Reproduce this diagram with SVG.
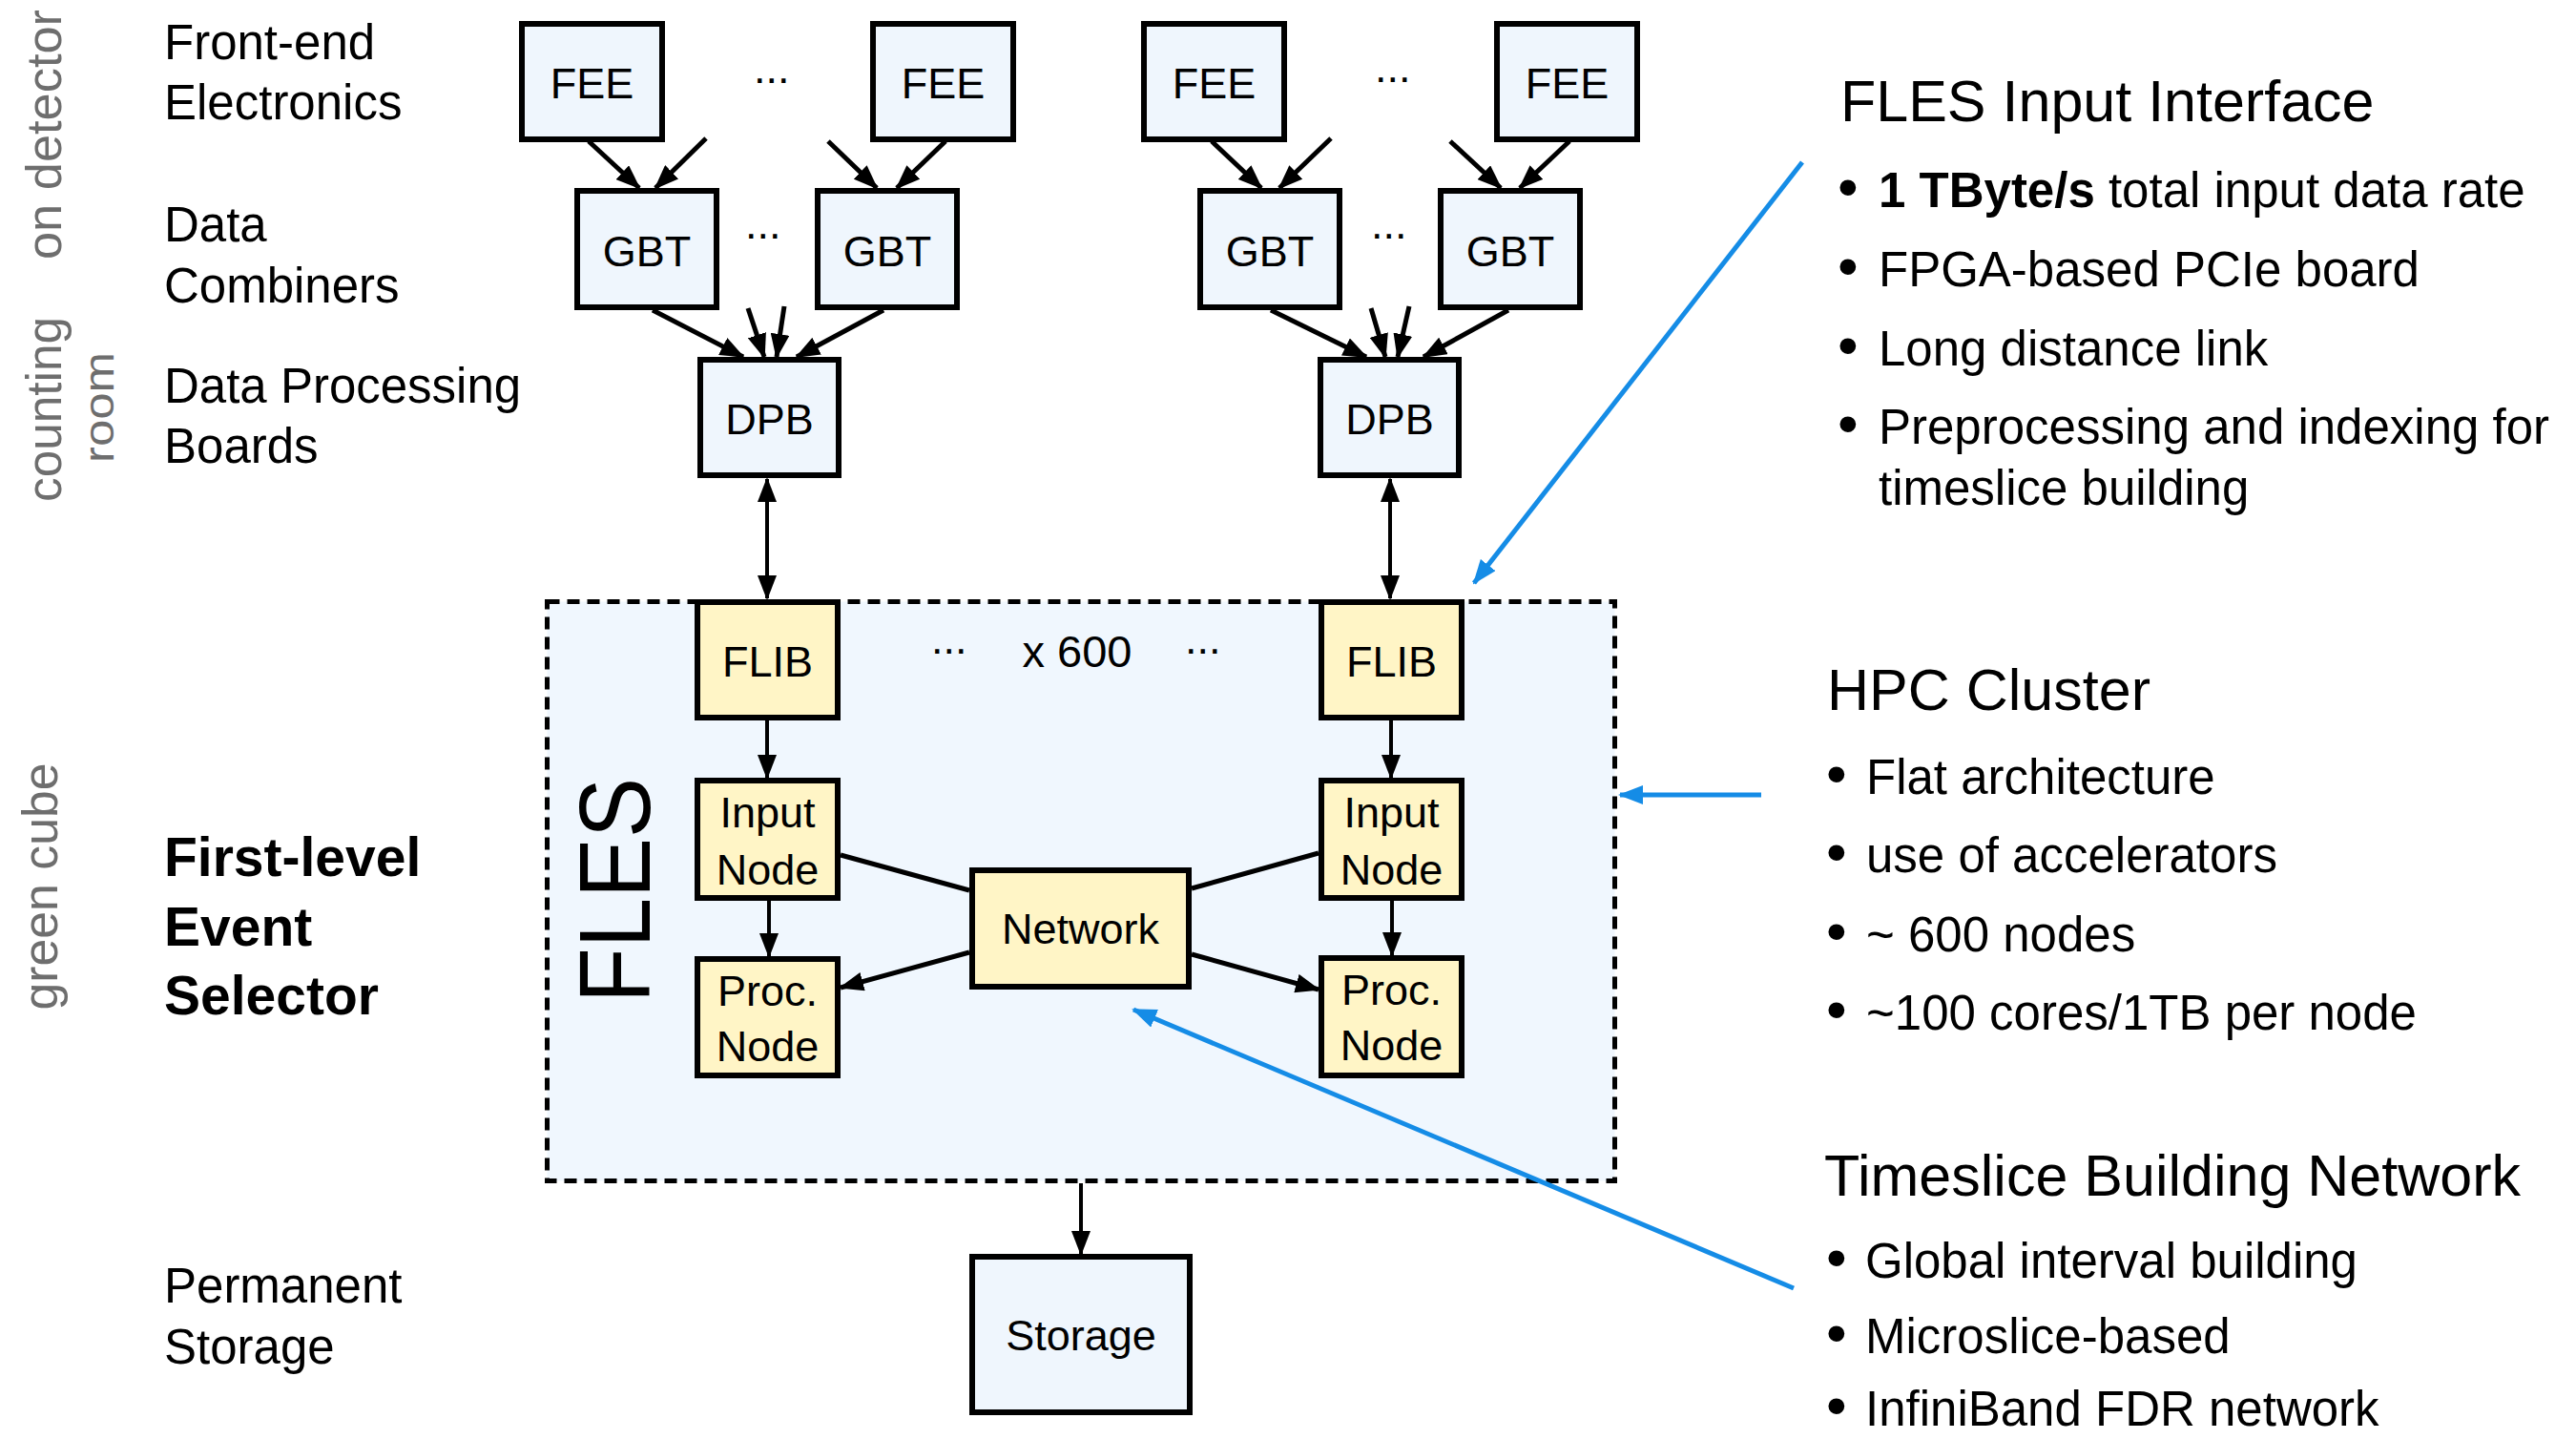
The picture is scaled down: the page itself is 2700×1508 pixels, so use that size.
<svg xmlns="http://www.w3.org/2000/svg" width="2700" height="1508" viewBox="0 0 2700 1508">
  <defs>
    <style>
      text { font-family: "Liberation Sans", Arial, Helvetica, sans-serif; fill: #000; }
      .label { font-size: 51px; }
      .bold { font-weight: bold; }
      .heading { font-size: 57px; font-weight: bold; }
      .side { font-size: 52px; fill: #6e6e6e; }
      .side-small { font-size: 44px; fill: #6e6e6e; }
      .title { font-size: 61px; }
      .item { font-size: 51px; }
      .dot { font-size: 62px; }
      .nt { font-size: 45px; text-anchor: middle; }
      .count { font-size: 47px; text-anchor: middle; }
      .dots { font-size: 45px; }
      .blue-box { fill: #EFF6FD; stroke: #000; stroke-width: 6; }
      .yellow-box { fill: #FFF5C6; stroke: #000; stroke-width: 6; }
      .region { fill: #F0F7FE; stroke: #000; stroke-width: 5; stroke-dasharray: 13 8; }
      .edge { stroke: #000; stroke-width: 5; fill: none; }
      .edge-thin { stroke: #000; stroke-width: 4; fill: none; }
      .callout { stroke: #158CE6; stroke-width: 5; fill: none; }
    </style>
    <marker id="arrow" markerUnits="userSpaceOnUse" markerWidth="26" markerHeight="20" refX="24" refY="10" orient="auto-start-reverse">
      <path d="M0,0 L26,10 L0,20 Z" fill="#000"/>
    </marker>
    <marker id="arrow-blue" markerUnits="userSpaceOnUse" markerWidth="26" markerHeight="20" refX="24" refY="10" orient="auto">
      <path d="M0,0 L26,10 L0,20 Z" fill="#158CE6"/>
    </marker>
  </defs>

  <rect width="2700" height="1508" fill="#fff"/>

  <!-- location labels (rotated, grey) -->
  <g id="locations">
    <text class="side" transform="translate(64,141) rotate(-90)" text-anchor="middle" textLength="262" lengthAdjust="spacingAndGlyphs">on detector</text>
    <text class="side" transform="translate(64,429) rotate(-90)" text-anchor="middle" textLength="194" lengthAdjust="spacingAndGlyphs">counting</text>
    <text class="side-small" transform="translate(119,427) rotate(-90)" text-anchor="middle" textLength="116" lengthAdjust="spacingAndGlyphs">room</text>
    <text class="side" transform="translate(60,929) rotate(-90)" text-anchor="middle" textLength="259" lengthAdjust="spacingAndGlyphs">green cube</text>
  </g>

  <!-- tier labels -->
  <g id="tiers">
    <text class="label" x="172" y="62">Front-end</text>
    <text class="label" x="172" y="125">Electronics</text>
    <text class="label" x="172" y="253">Data</text>
    <text class="label" x="172" y="317">Combiners</text>
    <text class="label" x="172" y="422">Data Processing</text>
    <text class="label" x="172" y="485">Boards</text>
    <text class="heading" x="172" y="918">First-level</text>
    <text class="heading" x="172" y="991">Event</text>
    <text class="heading" x="172" y="1063">Selector</text>
    <text class="label" x="172" y="1365">Permanent</text>
    <text class="label" x="172" y="1429">Storage</text>
  </g>

  <!-- FLES region -->
  <g id="fles">
    <rect class="region" x="573.5" y="630.5" width="1119" height="607"/>
    <text transform="translate(681,933) rotate(-90)" text-anchor="middle" font-size="106" textLength="236" lengthAdjust="spacingAndGlyphs">FLES</text>
    <text class="dots" x="976" y="685">...</text>
    <text class="count" x="1129" y="699">x 600</text>
    <text class="dots" x="1242" y="685">...</text>
  </g>

  <!-- front-end electronics -->
  <g id="fee1"><rect class="blue-box" x="547" y="25" width="147" height="121"/><text class="nt" x="620.5" y="103">FEE</text></g>
  <g id="fee2"><rect class="blue-box" x="915" y="25" width="147" height="121"/><text class="nt" x="988.5" y="103">FEE</text></g>
  <g id="fee3"><rect class="blue-box" x="1199" y="25" width="147" height="121"/><text class="nt" x="1272.5" y="103">FEE</text></g>
  <g id="fee4"><rect class="blue-box" x="1569" y="25" width="147" height="121"/><text class="nt" x="1642.5" y="103">FEE</text></g>
  <g id="fee-dots">
    <text class="dots" x="790" y="87">...</text>
    <text class="dots" x="1441" y="86">...</text>
  </g>

  <!-- data combiners -->
  <g id="gbt1"><rect class="blue-box" x="605" y="200" width="146" height="122"/><text class="nt" x="678" y="279">GBT</text></g>
  <g id="gbt2"><rect class="blue-box" x="857" y="200" width="146" height="122"/><text class="nt" x="930" y="279">GBT</text></g>
  <g id="gbt3"><rect class="blue-box" x="1258" y="200" width="146" height="122"/><text class="nt" x="1331" y="279">GBT</text></g>
  <g id="gbt4"><rect class="blue-box" x="1510" y="200" width="146" height="122"/><text class="nt" x="1583" y="279">GBT</text></g>
  <g id="gbt-dots">
    <text class="dots" x="781" y="250">...</text>
    <text class="dots" x="1437" y="250">...</text>
  </g>

  <!-- data processing boards -->
  <g id="dpb1"><rect class="blue-box" x="734" y="377" width="145" height="121"/><text class="nt" x="806.5" y="455">DPB</text></g>
  <g id="dpb2"><rect class="blue-box" x="1384" y="377" width="145" height="121"/><text class="nt" x="1456.5" y="455">DPB</text></g>

  <!-- FLES nodes -->
  <g id="flib1"><rect class="yellow-box" x="731" y="631" width="147" height="121"/><text class="nt" x="804.5" y="709">FLIB</text></g>
  <g id="flib2"><rect class="yellow-box" x="1385" y="631" width="147" height="121"/><text class="nt" x="1458.5" y="709">FLIB</text></g>
  <g id="input1"><rect class="yellow-box" x="731" y="818" width="147" height="123"/><text class="nt" x="804.5" y="867">Input</text><text class="nt" x="804.5" y="927">Node</text></g>
  <g id="input2"><rect class="yellow-box" x="1385" y="818" width="147" height="123"/><text class="nt" x="1458.5" y="867">Input</text><text class="nt" x="1458.5" y="927">Node</text></g>
  <g id="proc1"><rect class="yellow-box" x="731" y="1005" width="147" height="122"/><text class="nt" x="804.5" y="1054">Proc.</text><text class="nt" x="804.5" y="1112">Node</text></g>
  <g id="proc2"><rect class="yellow-box" x="1385" y="1004" width="147" height="123"/><text class="nt" x="1458.5" y="1053">Proc.</text><text class="nt" x="1458.5" y="1111">Node</text></g>
  <g id="network"><rect class="yellow-box" x="1019" y="912" width="227" height="122"/><text class="nt" x="1132.5" y="989">Network</text></g>

  <!-- storage -->
  <g id="storage"><rect class="blue-box" x="1019" y="1317" width="228" height="163"/><text class="nt" x="1133" y="1415">Storage</text></g>

  <!-- data flow -->
  <g id="connectors">
    <line class="edge" x1="617" y1="148" x2="670" y2="197" marker-end="url(#arrow)"/>
    <line class="edge" x1="740" y1="145" x2="687" y2="197" marker-end="url(#arrow)"/>
    <line class="edge" x1="868" y1="148" x2="919" y2="197" marker-end="url(#arrow)"/>
    <line class="edge" x1="991" y1="148" x2="940" y2="197" marker-end="url(#arrow)"/>
    <line class="edge" x1="1270" y1="148" x2="1322" y2="197" marker-end="url(#arrow)"/>
    <line class="edge" x1="1395" y1="145" x2="1341" y2="197" marker-end="url(#arrow)"/>
    <line class="edge" x1="1520" y1="148" x2="1573" y2="197" marker-end="url(#arrow)"/>
    <line class="edge" x1="1645" y1="148" x2="1593" y2="197" marker-end="url(#arrow)"/>

    <line class="edge" x1="684" y1="325" x2="779" y2="374" marker-end="url(#arrow)"/>
    <line class="edge" x1="784" y1="323" x2="801" y2="374" marker-end="url(#arrow)"/>
    <line class="edge" x1="822" y1="321" x2="814" y2="374" marker-end="url(#arrow)"/>
    <line class="edge" x1="926" y1="325" x2="835" y2="374" marker-end="url(#arrow)"/>
    <line class="edge" x1="1332" y1="325" x2="1432" y2="374" marker-end="url(#arrow)"/>
    <line class="edge" x1="1437" y1="323" x2="1452" y2="374" marker-end="url(#arrow)"/>
    <line class="edge" x1="1477" y1="321" x2="1465" y2="374" marker-end="url(#arrow)"/>
    <line class="edge" x1="1581" y1="325" x2="1492" y2="374" marker-end="url(#arrow)"/>

    <line class="edge-thin" x1="804" y1="502" x2="804" y2="627" marker-start="url(#arrow)" marker-end="url(#arrow)"/>
    <line class="edge-thin" x1="1457" y1="502" x2="1457" y2="627" marker-start="url(#arrow)" marker-end="url(#arrow)"/>

    <line class="edge-thin" x1="804" y1="755" x2="804" y2="815" marker-end="url(#arrow)"/>
    <line class="edge-thin" x1="1458" y1="755" x2="1458" y2="815" marker-end="url(#arrow)"/>
    <line class="edge-thin" x1="806" y1="944" x2="806" y2="1002" marker-end="url(#arrow)"/>
    <line class="edge-thin" x1="1459" y1="944" x2="1459" y2="1001" marker-end="url(#arrow)"/>

    <line class="edge" x1="881" y1="896" x2="1016" y2="933"/>
    <line class="edge" x1="1016" y1="998" x2="881" y2="1035" marker-end="url(#arrow)"/>
    <line class="edge" x1="1249" y1="931" x2="1382" y2="894"/>
    <line class="edge" x1="1249" y1="1000" x2="1382" y2="1037" marker-end="url(#arrow)"/>

    <line class="edge-thin" x1="1133" y1="1240" x2="1133" y2="1314" marker-end="url(#arrow)"/>

    <line class="callout" x1="1889" y1="170" x2="1545" y2="611" marker-end="url(#arrow-blue)"/>
    <line class="callout" x1="1846" y1="833" x2="1698" y2="833" marker-end="url(#arrow-blue)"/>
    <line class="callout" x1="1880" y1="1350" x2="1188" y2="1058" marker-end="url(#arrow-blue)"/>
  </g>

  <!-- FLES input interface notes -->
  <g id="note-input">
    <text class="title" x="1929" y="127">FLES Input Interface</text>
    <text class="item" x="1926" y="217"><tspan class="dot">•</tspan><tspan x="1969" class="bold">1 TByte/s</tspan> total input data rate</text>
    <text class="item" x="1926" y="300"><tspan class="dot">•</tspan><tspan x="1969">FPGA-based PCIe board</tspan></text>
    <text class="item" x="1926" y="383"><tspan class="dot">•</tspan><tspan x="1969">Long distance link</tspan></text>
    <text class="item" x="1926" y="465"><tspan class="dot">•</tspan><tspan x="1969">Preprocessing and indexing for</tspan></text>
    <text class="item" x="1969" y="529">timeslice building</text>
  </g>

  <!-- HPC cluster notes -->
  <g id="note-hpc">
    <text class="title" x="1915" y="744">HPC Cluster</text>
    <text class="item" x="1914" y="832"><tspan class="dot">•</tspan><tspan x="1956">Flat architecture</tspan></text>
    <text class="item" x="1914" y="914"><tspan class="dot">•</tspan><tspan x="1956">use of accelerators</tspan></text>
    <text class="item" x="1914" y="997"><tspan class="dot">•</tspan><tspan x="1956">~ 600 nodes</tspan></text>
    <text class="item" x="1914" y="1079"><tspan class="dot">•</tspan><tspan x="1956">~100 cores/1TB per node</tspan></text>
  </g>

  <!-- timeslice building network notes -->
  <g id="note-network">
    <text class="title" x="1912" y="1253">Timeslice Building Network</text>
    <text class="item" x="1914" y="1339"><tspan class="dot">•</tspan><tspan x="1955">Global interval building</tspan></text>
    <text class="item" x="1914" y="1418"><tspan class="dot">•</tspan><tspan x="1955">Microslice-based</tspan></text>
    <text class="item" x="1914" y="1494"><tspan class="dot">•</tspan><tspan x="1955">InfiniBand FDR network</tspan></text>
  </g>
</svg>
